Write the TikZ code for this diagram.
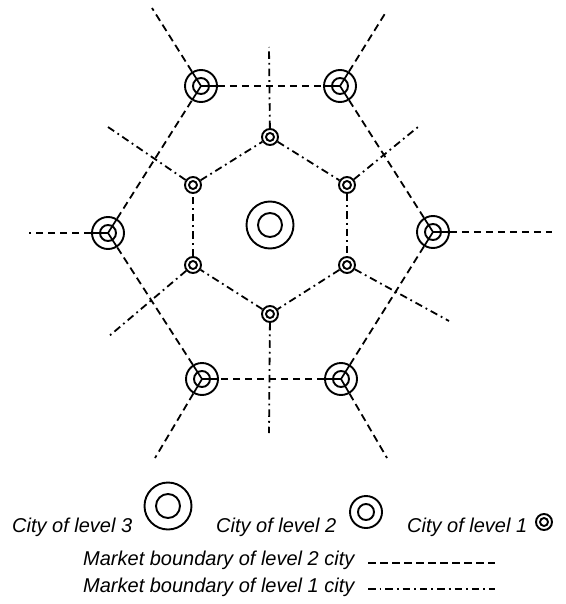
\documentclass[tikz,border=0pt]{standalone}
\usepackage{fontspec}
\setmainfont{Liberation Sans}
\usetikzlibrary{calc}

\tikzset{
  city/.style 2 args={circle, draw, line width=1.9pt, minimum size=#1, inner sep=0pt,
    path picture={\draw[line width=1.9pt] (path picture bounding box.center) circle (#2);}},
  citythree/.style={city={47pt}{12pt}},
  citytwo/.style={city={32pt}{8pt}},
  cityone/.style={city={16pt}{4pt}},
  bndtwo/.style={line width=1.8pt, dash pattern=on 7.5pt off 4.5pt},
  bndone/.style={line width=1.8pt, dash pattern=on 7.5pt off 4pt on 1.8pt off 4pt},
  spoke/.style={line width=1.7pt},
  keytext/.style={font=\itshape\fontsize{20}{24}\selectfont, inner sep=0pt, anchor=base west}
}

\begin{document}
\begin{tikzpicture}[x=1pt, y=-1pt]
\useasboundingbox (0,0) rectangle (565,604);

% central city
\node[citythree] (m) at (270,225) {};

% level 2 cities
\node[citytwo] (A) at (201,86) {};
\node[citytwo] (B) at (340,86) {};
\node[citytwo] (C) at (433,232) {};
\node[citytwo] (D) at (341,379) {};
\node[citytwo] (E) at (202,379) {};
\node[citytwo] (F) at (108,233) {};

% level 1 cities
\node[cityone] (a) at (270,137) {};
\node[cityone] (b) at (347,185) {};
\node[cityone] (c) at (347,265) {};
\node[cityone] (d) at (270,314) {};
\node[cityone] (e) at (193,265) {};
\node[cityone] (f) at (193,185) {};

% free ends
\coordinate (Aout) at (152,8);
\coordinate (Bout) at (386,12);
\coordinate (Cout) at (552,232);
\coordinate (Dout) at (387,458);
\coordinate (Eout) at (155,458);
\coordinate (Fout) at (29,233);
\coordinate (aout) at (269,47);
\coordinate (bout) at (418,127);
\coordinate (cout) at (449,321);
\coordinate (dout) at (269,433);
\coordinate (eout) at (108,337);
\coordinate (fout) at (108,127);

% market boundaries of level 2 cities
\draw[bndtwo] (A) edge (B) edge (Aout);
\draw[bndtwo] (B) edge (C) edge (Bout);
\draw[bndtwo] (C) edge (D) edge (Cout);
\draw[bndtwo] (D) edge (E) edge (Dout);
\draw[bndtwo] (E) edge (F) edge (Eout);
\draw[bndtwo] (F) edge (A) edge (Fout);

\draw[spoke] (A.center) -- ($(A)!16pt!(B)$) (A.center) -- ($(A)!16pt!(F)$) (A.center) -- ($(A)!16pt!(Aout)$);
\draw[spoke] (B.center) -- ($(B)!16pt!(A)$) (B.center) -- ($(B)!16pt!(C)$) (B.center) -- ($(B)!16pt!(Bout)$);
\draw[spoke] (C.center) -- ($(C)!16pt!(B)$) (C.center) -- ($(C)!16pt!(D)$) (C.center) -- ($(C)!16pt!(Cout)$);
\draw[spoke] (D.center) -- ($(D)!16pt!(C)$) (D.center) -- ($(D)!16pt!(E)$) (D.center) -- ($(D)!16pt!(Dout)$);
\draw[spoke] (E.center) -- ($(E)!16pt!(D)$) (E.center) -- ($(E)!16pt!(F)$) (E.center) -- ($(E)!16pt!(Eout)$);
\draw[spoke] (F.center) -- ($(F)!16pt!(E)$) (F.center) -- ($(F)!16pt!(A)$) (F.center) -- ($(F)!16pt!(Fout)$);

% market boundaries of level 1 cities
\draw[bndone] (a) edge (b) edge (aout);
\draw[bndone] (b) edge (c) edge (bout);
\draw[bndone] (c) edge (d) edge (cout);
\draw[bndone] (d) edge (e) edge (dout);
\draw[bndone] (e) edge (f) edge (eout);
\draw[bndone] (f) edge (a) edge (fout);

% key
\node[keytext] (t3) at (12,532) {City of level 3};
\node[citythree] (k3) at (168,506) {};
\node[keytext] (t2) at (216,532) {City of level 2};
\node[citytwo] (k2) at (366,512) {};
\node[keytext] (t1) at (407,532) {City of level 1};
\node[cityone] (k1) at (544,522) {};

\node[keytext] (b2) at (83,565) {Market boundary of level 2 city};
\node[keytext] (b1) at (83,592) {Market boundary of level 1 city};
\coordinate (b2s) at (368,563);
\coordinate (b2e) at (495,563);
\coordinate (b1s) at (368,589);
\coordinate (b1e) at (495,589);
\draw[bndtwo] (b2s) -- (b2e);
\draw[bndone] (b1s) -- (b1e);
\end{tikzpicture}
\end{document}
